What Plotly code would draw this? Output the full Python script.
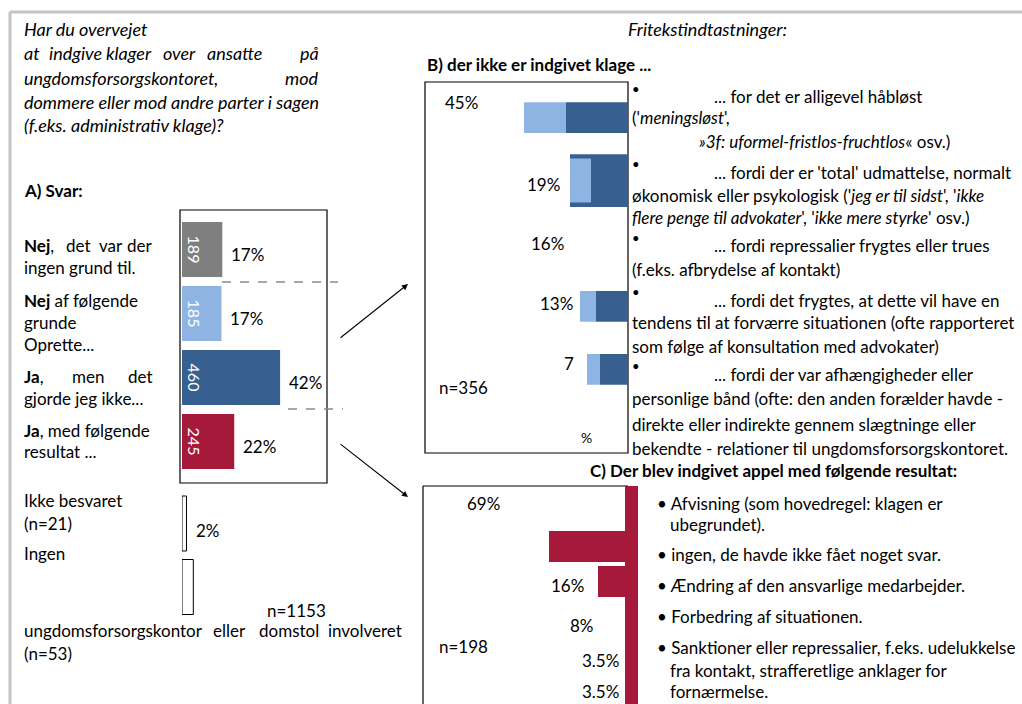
import plotly.graph_objects as go

# ---------------- data ----------------
a_cats = ["Nej, ingen grund", "Nej af følgende grunde", "Ja, men gjorde ikke", "Ja, med resultat"]
a_counts = [189, 185, 460, 245]
a_pct = ["17%", "17%", "42%", "22%"]
a_colors = ["#7f7f7f", "#8db4e2", "#376091", "#a6193a"]

a2_cats = ["Ikke besvaret", "Ingen"]
a2_counts = [21, 53]
a2_pct = ["2%", ""]

b_cats = ["håbløst", "udmattelse", "repressalier", "forværre", "afhængigheder"]
b_labels = ["45%", "19%", "16%", "13%", "7"]
b_dark = [31, 29, 0, 16, 14]
b_light = [21, 10.5, 0, 8, 6.5]
b_light_base = [31, 18.5, 0, 16, 14]

c_cats = ["Afvisning", "ingen svar", "Ændring", "Forbedring", "Sanktioner", "øvrige"]
c_vals = [0, 38, 13.5, 0, 0, 0]
c_labels = ["69%", "", "16%", "8%", "3.5%", "3.5%"]

# ---------------- helpers ----------------
W, H = 1022, 704
FONT = "Lato"
FS = 17
FI = 18  # italic question text


def X(px):
    return px / W


def Y(py):
    return 1 - py / H


RED = "#a6193a"
DARK = "#376091"
LIGHT = "#8db4e2"

fig = go.Figure()

# Panel A bars
fig.add_trace(go.Bar(
    orientation="h", y=a_cats, x=a_counts, xaxis="x", yaxis="y",
    marker=dict(color=a_colors, line=dict(width=0)), width=0.86,
    text=[str(v) for v in a_counts], textposition="inside", insidetextanchor="start",
    textangle=90, insidetextfont=dict(color="white", size=16, family=FONT),
    constraintext="none", hoverinfo="skip", showlegend=False))

fig.add_trace(go.Bar(
    orientation="h", y=a2_cats, x=a2_counts, xaxis="x2", yaxis="y2",
    marker=dict(color="white", line=dict(color="black", width=1)), width=0.866,
    hoverinfo="skip", showlegend=False))

# Panel B bars
w_dark = [0.49, 0.84, 0.49, 0.49, 0.49]
w_light = [0.49, 0.70, 0.49, 0.49, 0.49]
fig.add_trace(go.Bar(
    orientation="h", y=b_cats, x=b_dark, base=[0] * len(b_dark), xaxis="x3", yaxis="y3",
    marker=dict(color=DARK, line=dict(width=0)), width=w_dark,
    hoverinfo="skip", showlegend=False))
fig.add_trace(go.Bar(
    orientation="h", y=b_cats, x=b_light, base=b_light_base, xaxis="x3", yaxis="y3",
    marker=dict(color=LIGHT, line=dict(width=0)), width=w_light,
    hoverinfo="skip", showlegend=False))

# Panel C bars
fig.add_trace(go.Bar(
    orientation="h", y=c_cats, x=c_vals, xaxis="x4", yaxis="y4",
    marker=dict(color=RED, line=dict(width=0)), width=0.886,
    hoverinfo="skip", showlegend=False))

hidden = dict(showgrid=False, zeroline=False, showticklabels=False, ticks="", showline=False, fixedrange=True)

fig.update_layout(
    width=W, height=H, margin=dict(l=0, r=0, t=0, b=0),
    paper_bgcolor="white", plot_bgcolor="rgba(0,0,0,0)",
    barmode="overlay", showlegend=False,
    font=dict(family=FONT, size=FS, color="black"),
    xaxis=dict(domain=[X(182), X(327)], range=[0, 680], anchor="y", **hidden),
    yaxis=dict(domain=[Y(473.5), Y(217.5)], range=[3.5, -0.5], anchor="x", type="category", **hidden),
    xaxis2=dict(domain=[X(182), X(327)], range=[0, 680], anchor="y2", **hidden),
    yaxis2=dict(domain=[Y(618.75), Y(491.75)], range=[1.5, -0.5], anchor="x2", type="category", **hidden),
    xaxis3=dict(domain=[X(425), X(628)], range=[101.5, 0], anchor="y3", **hidden),
    yaxis3=dict(domain=[Y(400.75), Y(86.25)], range=[4.5, -0.5], anchor="x3", type="category", **hidden),
    xaxis4=dict(domain=[X(423), X(625)], range=[101, 0], anchor="y4", **hidden),
    yaxis4=dict(domain=[0, Y(486)], range=[5.5, -0.7286], anchor="x4", type="category", side="right",
                showgrid=False, zeroline=False, showticklabels=False, ticks="", fixedrange=True,
                showline=True, linewidth=13, linecolor=RED),
)

shapes = []


def line(x0, y0, x1, y1, color="black", width=1, dash="solid"):
    shapes.append(dict(type="line", xref="paper", yref="paper", x0=X(x0), y0=Y(y0), x1=X(x1), y1=Y(y1),
                       line=dict(color=color, width=width, dash=dash), layer="below"))


def rect(x0, y0, x1, y1, color="black", width=1.2):
    shapes.append(dict(type="rect", xref="paper", yref="paper", x0=X(x0), y0=Y(y0), x1=X(x1), y1=Y(y1),
                       line=dict(color=color, width=width), fillcolor="rgba(0,0,0,0)", layer="below"))


# frame
line(10, 12, 1022, 12, color="#c4c4c4", width=3)
line(10, 12, 10, 704, color="#c4c4c4", width=3)
# boxes
rect(180, 210, 327, 483)
rect(425, 82, 628, 453)
line(423, 486, 628, 486, width=1.2)
line(423, 486, 423, 710, width=1.2)
# dashed connectors
line(222, 282, 338, 282, color="#8a8a8a", width=1.3, dash="dash")
line(288, 409, 343, 409, color="#8a8a8a", width=1.3, dash="dash")
fig.update_layout(shapes=shapes)

ann = []


def txt(x, y, s, anchor="left", size=FS, color="black"):
    ann.append(dict(x=X(x), y=Y(y), xref="paper", yref="paper", text=s, showarrow=False,
                    xanchor=anchor, yanchor="middle", font=dict(size=size, color=color, family=FONT)))


def it(s):
    return "<i>" + s + "</i>"


def bd(s):
    return "<b>" + s + "</b>"


# ---- left column ----
txt(22, 29, it("Har du overvejet"), size=FI)
for w_, xx in zip(["at", "indgive", "klager", "over", "ansatte"], [22, 47, 104, 161, 205]):
    txt(xx, 53, it(w_), size=FI)
txt(321, 53, it("på"), anchor="right", size=FI)
txt(22, 78, it("ungdomsforsorgskontoret,"), size=FI)
txt(321, 78, it("mod"), anchor="right", size=FI)
txt(22, 102, it("dommere eller mod andre parter i sagen"), size=FI)
txt(22, 125, it("(f.eks. administrativ klage)?"), size=FI)
txt(22, 190, bd("A) Svar:"))

txt(22, 245, bd("Nej") + ",")
txt(64, 245, "det")
txt(97, 245, "var")
txt(154, 245, "der", anchor="right")
txt(22, 268, "ingen grund til.")
txt(22, 300, bd("Nej") + " af følgende")
txt(22, 322, "grunde")
txt(22, 345, "Oprette...")
txt(22, 376, bd("Ja") + ",")
txt(70, 376, "men")
txt(155, 376, "det", anchor="right")
txt(22, 398, "gjorde jeg ikke...")
txt(22, 430, bd("Ja") + ", med følgende")
txt(22, 451, "resultat ...")
txt(22, 500, "Ikke besvaret")
txt(22, 523, "(n=21)")
txt(22, 553, "Ingen")
txt(265, 610, "n=1153")
txt(22, 630, "ungdomsforsorgskontor")
txt(211, 630, "eller")
txt(404, 630, "domstol  involveret", anchor="right")
txt(22, 653, "(n=53)")

# percentage labels for panel A (anchored to the bar ends)
for c, v, p in zip(a_cats, a_counts, a_pct):
    ann.append(dict(x=v, y=c, xref="x", yref="y", text=p, showarrow=False, xanchor="left",
                    yanchor="middle", xshift=7, yshift=-5, font=dict(size=FS, family=FONT)))
for c, v, p in zip(a2_cats, a2_counts, a2_pct):
    if p:
        ann.append(dict(x=v, y=c, xref="x2", yref="y2", text=p, showarrow=False, xanchor="left",
                        yanchor="middle", xshift=8, yshift=-7, font=dict(size=FS, family=FONT)))

# ---- panel B ----
txt(626, 29, it("Fritekstindtastninger:"), size=FI)
txt(425, 65, bd("B) der ikke er indgivet klage ..."))
b_lab_pos = [(443, 103), (525, 184), (529, 243), (538, 303), (562, 363)]
for (xx, yy), s in zip(b_lab_pos, b_labels):
    txt(xx, yy, s)
txt(437, 387, "n=356")
txt(579, 437, "%", size=14)

txt(630, 89, "•", size=13)
txt(712, 96, "... for det er alligevel håbløst")
txt(630, 117, "('" + it("meningsløst") + "',")
txt(697, 141, it("»3f: uformel-fristlos-fruchtlos") + "« osv.)")
txt(630, 164, "•", size=13)
txt(712, 172, "... fordi der er 'total' udmattelse, normalt")
txt(630, 196, "økonomisk eller psykologisk ('" + it("jeg er til sidst") + "', '" + it("ikke"))
txt(630, 218, it("flere penge til advokater") + "', '" + it("ikke mere styrke") + "' osv.)")
txt(630, 238, "•", size=13)
txt(712, 246, "... fordi repressalier frygtes eller trues")
txt(630, 269, "(f.eks. afbrydelse af kontakt)")
txt(630, 292, "•", size=13)
txt(712, 300, "... fordi det frygtes, at dette vil have en")
txt(630, 323, "tendens til at forværre situationen (ofte rapporteret")
txt(630, 346, "som følge af konsultation med advokater)")
txt(630, 366, "•", size=13)
txt(712, 374, "... fordi der var afhængigheder eller")
txt(630, 398, "personlige bånd (ofte: den anden forælder havde -")
txt(630, 424, "direkte eller indirekte gennem slægtninge eller")
txt(630, 448, "bekendte - relationer til ungdomsforsorgskontoret.")

# ---- panel C ----
txt(588, 470, bd("C) Der blev indgivet appel med følgende resultat:"))
c_lab_pos = [(465, 503), None, (549, 585), (568, 625), (580, 660), (580, 691)]
for pos, s in zip(c_lab_pos, c_labels):
    if pos and s:
        txt(pos[0], pos[1], s)
txt(437, 646, "n=198")

txt(655, 503, "• Afvisning (som hovedregel: klagen er")
txt(668, 524, "ubegrundet).")
txt(655, 554, "• ingen, de havde ikke fået noget svar.")
txt(655, 585, "• Ændring af den ansvarlige medarbejder.")
txt(655, 616, "• Forbedring af situationen.")
txt(655, 647, "• Sanktioner eller repressalier, f.eks. udelukkelse")
txt(668, 670, "fra kontakt, strafferetlige anklager for")
txt(668, 691, "fornærmelse.")

# arrows (head position in paper coords, tail as pixel offset)
for (hx, hy), (tx, ty) in [((408, 284), (339, 339)), ((408, 497), (339, 443))]:
    ann.append(dict(x=X(hx), y=Y(hy), xref="paper", yref="paper", ax=tx - hx, ay=ty - hy,
                    axref="pixel", ayref="pixel", showarrow=True, arrowhead=2, arrowsize=1.1,
                    arrowwidth=1.1, arrowcolor="black", text=""))

fig.update_layout(annotations=ann)

fig.write_html("out.html", config={"displayModeBar": False},
               post_script="document.body.style.margin='0';")
